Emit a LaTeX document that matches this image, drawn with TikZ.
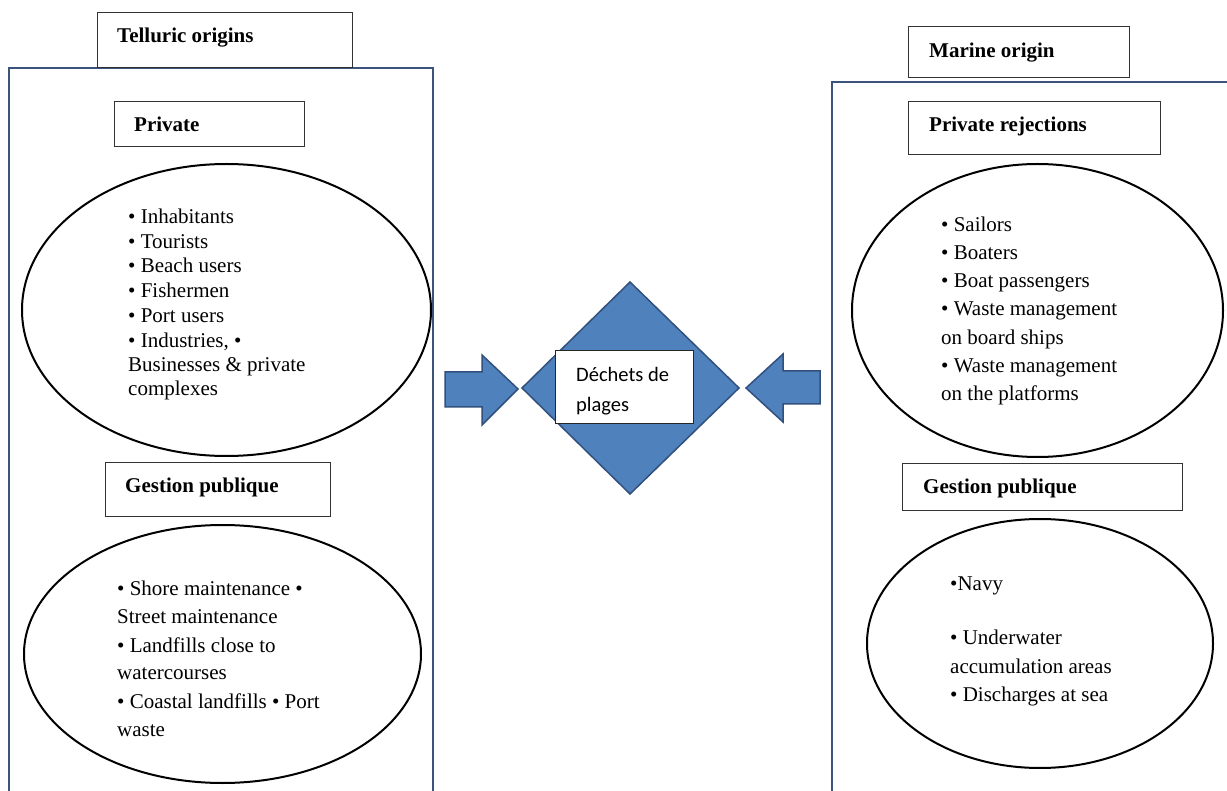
\documentclass[tikz,border=0pt]{standalone}
\usepackage{fontspec}
\setmainfont{Liberation Serif}
\newfontfamily\calib{Carlito}
\usetikzlibrary{shapes.geometric}
\definecolor{framecol}{RGB}{58,84,124}
\definecolor{diafill}{RGB}{79,129,189}
\definecolor{diadraw}{RGB}{50,80,125}
\tikzset{
  frameline/.style={draw=framecol,line width=2pt},
  labelbox/.style={draw=black!80,line width=1pt,fill=white},
  oval/.style={ellipse,draw=black,line width=2pt,inner sep=0pt},
  bodytxt/.style={anchor=base west,inner sep=0pt,font=\fontsize{21}{25}\selectfont},
  headtxt/.style={anchor=base west,inner sep=0pt,font=\fontsize{21}{25}\selectfont\bfseries},
  diatxt/.style={anchor=base west,inner sep=0pt,font=\calib\fontsize{20.5}{25}\selectfont},
  blockarrow/.style={fill=diafill,draw=diadraw,line width=1.5pt,line join=miter}
}
\begin{document}
\begin{tikzpicture}[x=1pt,y=-1pt]
\clip (0,0) rectangle (1227,791);
\fill[white] (0,0) rectangle (1227,791);

% frames
\draw[frameline] (9,800) -- (9,68) -- (433,68) -- (433,800);
\draw[frameline] (832,800) -- (832,82) -- (1240,82);

% title boxes
\draw[labelbox] (97,13) rectangle (352,68);
\node[headtxt] (tell) at (117,43) {Telluric origins};
\draw[labelbox] (908,27) rectangle (1129,78);
\node[headtxt] (mar) at (929,58) {Marine origin};

% sub boxes
\draw[labelbox] (114,102) rectangle (304,147);
\node[headtxt] (priv) at (134,132) {Private};
\draw[labelbox] (105,463) rectangle (330,517);
\node[headtxt] (gpl) at (125,493) {Gestion publique};
\draw[labelbox] (908,102) rectangle (1160,155);
\node[headtxt] (privr) at (929,132) {Private rejections};
\draw[labelbox] (902,464) rectangle (1182,511);
\node[headtxt] (gpr) at (923,494) {Gestion publique};

% ellipses
\node[oval,minimum width=409pt,minimum height=292pt] (e1) at (226.5,310) {};
\node[oval,minimum width=397pt,minimum height=258pt] (e2) at (222.5,654) {};
\node[oval,minimum width=371pt,minimum height=293pt] (e3) at (1037.5,310.5) {};
\node[oval,minimum width=346pt,minimum height=249pt] (e4) at (1040,643.5) {};

% ellipse 1 text
\node[bodytxt] (a1) at (128,224) {• Inhabitants};
\node[bodytxt] (a2) at (128,249) {• Tourists};
\node[bodytxt] (a3) at (128,273) {• Beach users};
\node[bodytxt] (a4) at (128,298) {• Fishermen};
\node[bodytxt] (a5) at (128,323) {• Port users};
\node[bodytxt] (a6) at (128,348) {• Industries, •};
\node[bodytxt] (a7) at (128,372) {Businesses \& private};
\node[bodytxt] (a8) at (128,396) {complexes};

% ellipse 2 text
\node[bodytxt] (b1) at (117,595) {• Shore maintenance •};
\node[bodytxt] (b2) at (117,623) {Street maintenance};
\node[bodytxt] (b3) at (117,652) {• Landfills close to};
\node[bodytxt] (b4) at (117,679) {watercourses};
\node[bodytxt] (b5) at (117,708) {• Coastal landfills • Port};
\node[bodytxt] (b6) at (117,736) {waste};

% ellipse 3 text
\node[bodytxt] (c1) at (941,232) {• Sailors};
\node[bodytxt] (c2) at (941,260) {• Boaters};
\node[bodytxt] (c3) at (941,288) {• Boat passengers};
\node[bodytxt] (c4) at (941,316) {• Waste management};
\node[bodytxt] (c5) at (941,345) {on board ships};
\node[bodytxt] (c6) at (941,373) {• Waste management};
\node[bodytxt] (c7) at (941,401) {on the platforms};

% ellipse 4 text
\node[bodytxt] (d1) at (950,590) {•Navy};
\node[bodytxt] (d2) at (950,644) {• Underwater};
\node[bodytxt] (d3) at (950,673) {accumulation areas};
\node[bodytxt] (d4) at (950,701) {• Discharges at sea};

% diamond
\coordinate (dt) at (630,282);
\coordinate (dr) at (739,388);
\coordinate (db) at (630,494);
\coordinate (dl) at (522,388);
\draw[blockarrow] (dt) -- (dr) -- (db) -- (dl) -- cycle;
\draw[labelbox,draw=black!85] (555,351) rectangle (693,424);
\node[diatxt] (dx1) at (576,382) {Déchets de};
\node[diatxt] (dx2) at (576,412) {plages};

% block arrows
\draw[blockarrow] (445,372) -- (482,372) -- (482,355) -- (518,389) -- (482,425) -- (482,407) -- (445,407) -- cycle;
\draw[blockarrow] (820,371) -- (783,371) -- (783,354) -- (746,388) -- (783,422) -- (783,404) -- (820,404) -- cycle;
\end{tikzpicture}
\end{document}
